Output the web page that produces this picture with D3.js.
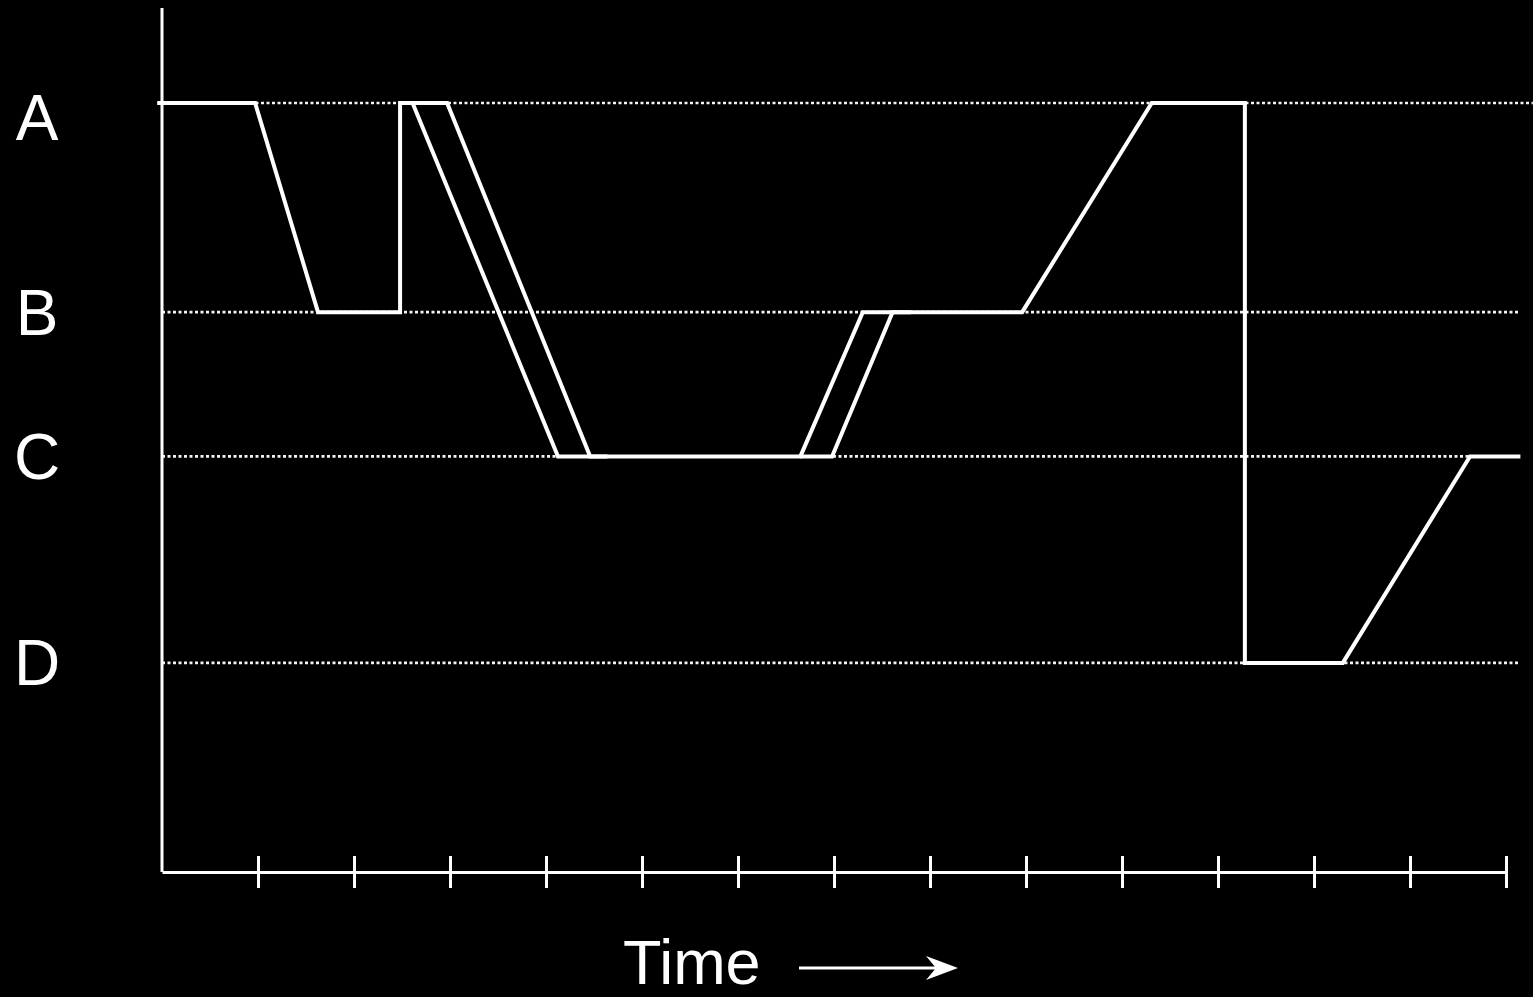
<!DOCTYPE html>
<html>
<head>
<meta charset="utf-8">
<script src="https://cdn.jsdelivr.net/npm/d3@7"></script>
<style>
  html, body { margin: 0; padding: 0; background: #000; }
  svg { display: block; }
</style>
</head>
<body>
<svg id="viz"></svg>
<script>
// levels on the y axis (arbitrary units)
const levels = ['A', 'B', 'C', 'D'];
const levelValues = [8.9, 6.48, 4.81, 2.42];
const guideEnds = [14.28, 14.125, 14.125, 14.125];

// ticks on the time axis
const tickTimes = [1, 2, 3, 4, 5, 6, 7, 8, 9, 10, 11, 12, 13, 14];

// main trajectory
const mainTimes = [-0.05, 0.97, 1.625, 2.48, 2.48, 2.97, 4.46, 6.65, 7.3, 8.96, 10.31, 11.28, 11.28, 12.3, 13.625, 14.15];
const mainLevels = ['A', 'A', 'B', 'B', 'A', 'A', 'C', 'C', 'B', 'B', 'A', 'A', 'D', 'D', 'C', 'C'];

// the two short side branches
const branch1Times = [2.48, 2.61, 4.125, 4.64];
const branch1Levels = ['A', 'A', 'C', 'C'];
const branch2Times = [6.65, 6.98, 7.61, 7.8];
const branch2Levels = ['C', 'C', 'B', 'B'];

const W = 1533, H = 997;

const svg = d3.select('#viz').attr('width', W).attr('height', H);

var x = d3.scaleLinear().domain([0, 14]).range([162, 1506]);
var y = d3.scaleLinear().domain([0, 10]).range([872, 8]);

const levelY = (l) => y(levelValues[levels.indexOf(l)]);

// dotted guide lines
svg
  .append('g')
  .selectAll('line')
  .data(levels)
  .join('line')
  .attr('x1', x(0))
  .attr('x2', (d, i) => x(guideEnds[i]))
  .attr('y1', (d) => levelY(d))
  .attr('y2', (d) => levelY(d))
  .attr('stroke', '#f4f4f4')
  .attr('stroke-width', 2.6)
  .attr('stroke-dasharray', '3,2.5');

// level labels
svg
  .append('g')
  .selectAll('text')
  .data(levels)
  .join('text')
  .attr('x', 37)
  .attr('y', (d) => levelY(d) + (d == 'A' ? 15 : 0))
  .attr('dy', '0.35em')
  .attr('text-anchor', 'middle')
  .style('font-family', 'Liberation Sans, Arial, sans-serif')
  .style('font-size', '64px')
  .attr('fill', '#fff')
  .text((d) => d);

// y axis (no ticks)
svg
  .append('line')
  .attr('x1', x(0))
  .attr('x2', x(0))
  .attr('y1', y(10))
  .attr('y2', y(0))
  .attr('stroke', '#fff')
  .attr('stroke-width', 3);

// x axis
const xAxis = svg
  .append('g')
  .attr('transform', 'translate(0,' + y(0) + ')')
  .call(d3.axisBottom(x).tickValues(tickTimes).tickSize(32).tickSizeOuter(0).tickFormat(''));

xAxis.select('.domain').attr('stroke', '#fff').attr('stroke-width', 3);
xAxis
  .selectAll('.tick line')
  .attr('y1', -16)
  .attr('y2', 16)
  .attr('stroke', '#fff')
  .attr('stroke-width', 3);

// trajectories
const line = d3
  .line()
  .x((d) => x(d[0]))
  .y((d) => levelY(d[1]));

const paths = [
  d3.zip(mainTimes, mainLevels),
  d3.zip(branch1Times, branch1Levels),
  d3.zip(branch2Times, branch2Levels),
];

svg
  .append('g')
  .selectAll('path')
  .data(paths)
  .join('path')
  .attr('d', line)
  .attr('fill', 'none')
  .attr('stroke', '#fff')
  .attr('stroke-width', 4)
  .attr('stroke-linejoin', 'miter')
  .attr('stroke-linecap', 'butt');

// Time label with arrow
svg
  .append('text')
  .attr('x', 623)
  .attr('y', 984)
  .style('font-family', 'Liberation Sans, Arial, sans-serif')
  .style('font-size', '63px')
  .attr('fill', '#fff')
  .text('Time');

svg
  .append('line')
  .attr('x1', 799)
  .attr('x2', 940)
  .attr('y1', 968)
  .attr('y2', 968)
  .attr('stroke', '#fff')
  .attr('stroke-width', 3);

svg
  .append('path')
  .attr('d', 'M958,968 L926,956 L936,968 L926,980 Z')
  .attr('fill', '#fff');
</script>
</body>
</html>
